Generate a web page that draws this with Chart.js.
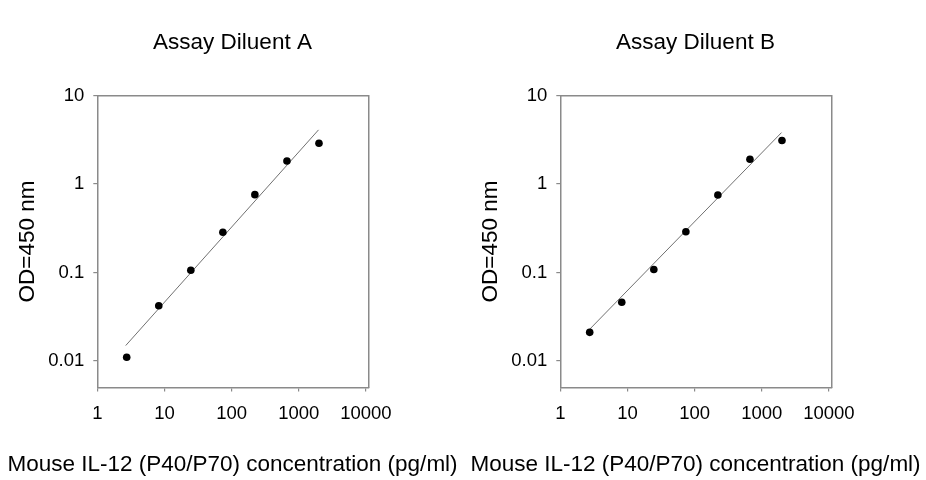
<!DOCTYPE html>
<html>
<head>
<meta charset="utf-8">
<script src="https://cdn.jsdelivr.net/npm/chart.js@4.4.1/dist/chart.umd.min.js"></script>
<style>
body { margin: 0; background: #fff; }
.wrap { display: flex; width: 926px; height: 480px; }
canvas { display: block; }
</style>
</head>
<body>
<div class="wrap">
<canvas id="chartA" width="463" height="480"></canvas>
<canvas id="chartB" width="463" height="480"></canvas>
</div>
<script>
// standard curve data (pg/ml vs OD 450)
const concentrations = [2.74, 8.23, 24.7, 74.1, 222, 667, 2000];
const odDiluentA = [0.011, 0.042, 0.106, 0.284, 0.757, 1.82, 2.89];
const odDiluentB = [0.021, 0.046, 0.108, 0.288, 0.75, 1.90, 3.10];

// fitted line end points
const fitX = [2.65, 1970];
const fitA = [0.0149, 4.09];
const fitB = [0.0222, 3.81];

const xTicks = [1, 10, 100, 1000, 10000];
const yTicks = [0.01, 0.1, 1, 10];

const xTitle = 'Mouse IL-12 (P40/P70) concentration (pg/ml)';
const yTitle = 'OD=450 nm';

const axisGray = '#8a8a8a';

Chart.defaults.font.family = "'Liberation Sans', Arial, sans-serif";
Chart.defaults.color = '#000';

function drawCurve(canvasId, title, odValues, fitValues) {
    const ctx = document.getElementById(canvasId).getContext('2d');
    return new Chart(ctx, {
        type: 'scatter',
        data: {
            datasets: [{
                label: title,
                xAxisID: 'x',
                yAxisID: 'y',
                data: concentrations.map((c, i) => ({x: c, y: odValues[i]})),
                backgroundColor: '#000',
                borderWidth: 0,
                pointRadius: 3.8
            }, {
                label: 'fit',
                xAxisID: 'x',
                yAxisID: 'y',
                data: fitX.map((c, i) => ({x: c, y: fitValues[i]})),
                showLine: true,
                borderColor: '#707070',
                borderWidth: 1,
                pointRadius: 0,
                fill: false
            }]
        },
        options: {
            responsive: false,
            animation: false,
            layout: {
                padding: { left: 2, right: 0, top: 0, bottom: 0 }
            },
            plugins: {
                legend: { display: false },
                tooltip: { enabled: false },
                title: {
                    display: true,
                    text: title,
                    color: '#000',
                    font: { size: 22.5, weight: 'normal' },
                    padding: { top: 28.8, bottom: 39.7 }
                },
                subtitle: {
                    display: true,
                    position: 'bottom',
                    text: xTitle,
                    color: '#000',
                    font: { size: 22.5, weight: 'normal' },
                    padding: { top: 0, bottom: 2 }
                }
            },
            scales: {
                x: {
                    type: 'logarithmic',
                    position: 'bottom',
                    min: 1,
                    max: 11000,
                    afterBuildTicks: s => { s.ticks = xTicks.map(v => ({value: v})); },
                    afterFit: s => { s.height = 63.5; },
                    grid: { drawOnChartArea: false, drawTicks: true, tickLength: 4, color: axisGray, lineWidth: 1.2 },
                    border: { display: true, color: axisGray, width: 1.5 },
                    ticks: {
                        font: { size: 18.5 },
                        color: '#000',
                        padding: 11,
                        maxRotation: 0,
                        autoSkip: false,
                        callback: v => String(v)
                    }
                },
                y: {
                    type: 'logarithmic',
                    position: 'left',
                    min: 0.005,
                    max: 10,
                    afterBuildTicks: s => { s.ticks = yTicks.map(v => ({value: v})); },
                    afterFit: s => { s.width = 95.3; },
                    grid: { drawOnChartArea: false, drawTicks: true, tickLength: 4, color: axisGray, lineWidth: 1.2 },
                    border: { display: true, color: axisGray, width: 1.5 },
                    ticks: {
                        font: { size: 18.5 },
                        color: '#000',
                        padding: 9,
                        autoSkip: false,
                        callback: v => String(v)
                    },
                    title: {
                        display: true,
                        text: yTitle,
                        color: '#000',
                        font: { size: 22.5 },
                        padding: { top: 12.7, bottom: 0 }
                    }
                },
                x2: {
                    type: 'linear',
                    position: 'top',
                    display: true,
                    afterFit: s => { s.height = 0; },
                    grid: { display: false },
                    ticks: { display: false },
                    border: { display: true, color: axisGray, width: 1.5 }
                },
                y2: {
                    type: 'linear',
                    position: 'right',
                    display: true,
                    afterFit: s => { s.width = 94.3; },
                    grid: { display: false },
                    ticks: { display: false },
                    border: { display: true, color: axisGray, width: 1.5 }
                }
            }
        }
    });
}

drawCurve('chartA', 'Assay Diluent A', odDiluentA, fitA);
drawCurve('chartB', 'Assay Diluent B', odDiluentB, fitB);
</script>
</body>
</html>
